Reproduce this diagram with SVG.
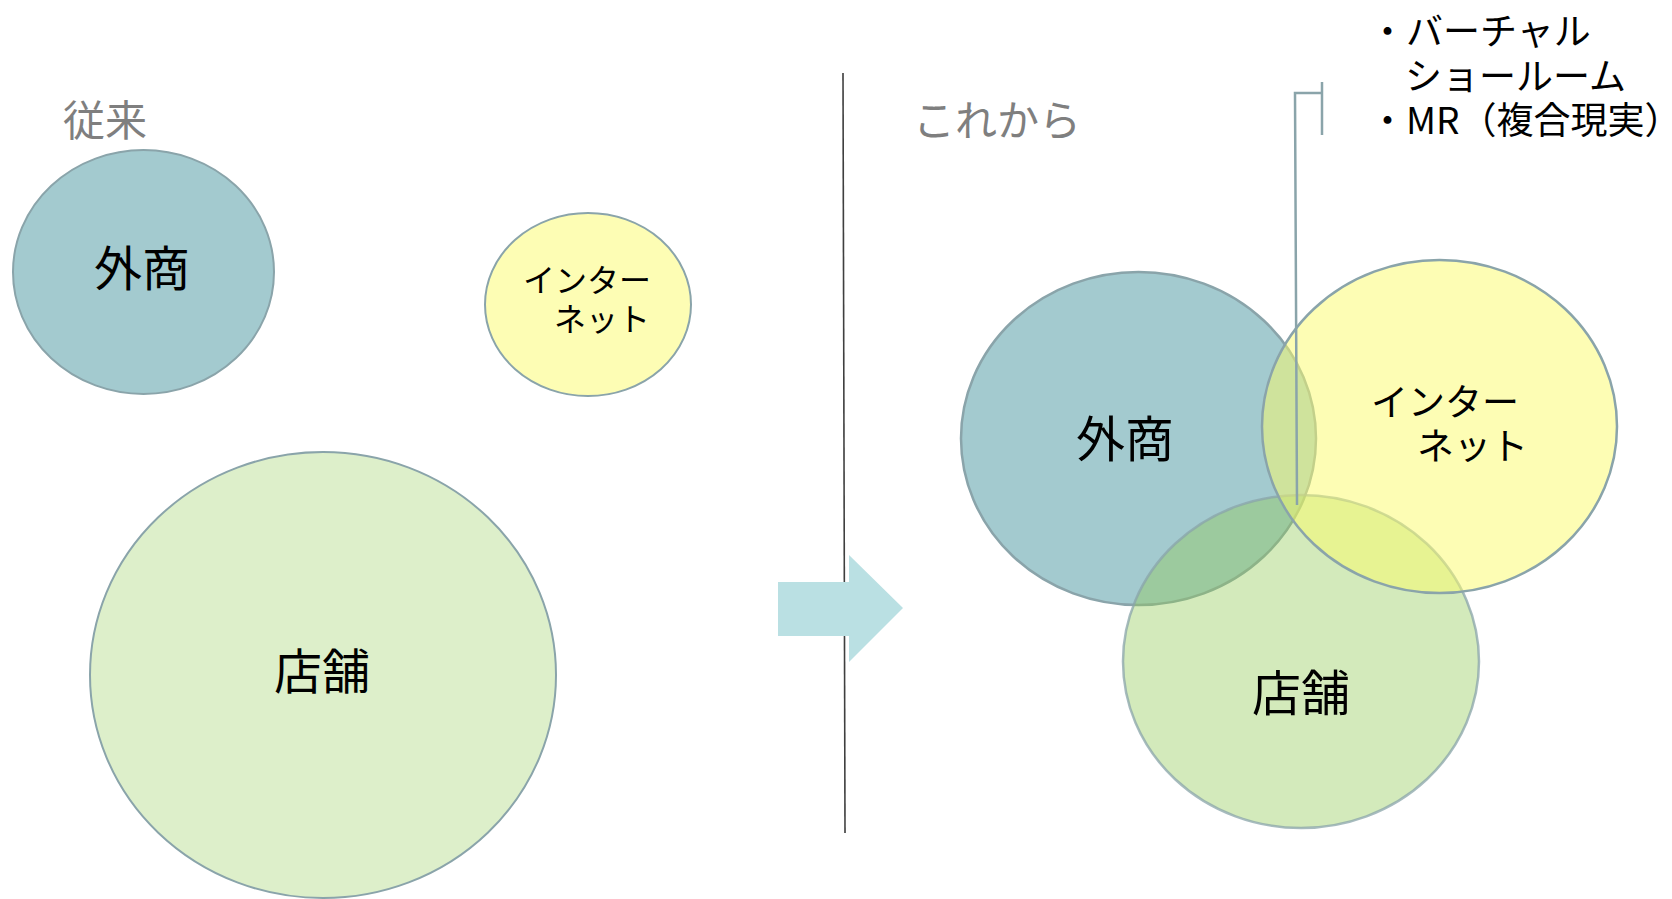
<svg xmlns="http://www.w3.org/2000/svg" width="1672" height="899" viewBox="0 0 1672 899">
<style>
text{font-family:"Noto Sans CJK JP","Noto Sans",sans-serif;dominant-baseline:central}
.title{fill:#7F7F7F;font-size:42px}
.lbl{fill:#000;text-anchor:middle}
.gaisho{fill:#A3CACF;stroke:#8AA4AA;stroke-width:2}
.net{fill:#FDFDB4;stroke:#8AA4AA;stroke-width:2}
.store{fill:#DDEFCA;stroke:#8AA4AA;stroke-width:2}
.gaisho2{fill:#A3CACF;stroke:#8AA4AA;stroke-width:2.5}
.net2{fill:rgb(251,251,105);fill-opacity:0.5;stroke:#8AA4AA;stroke-width:2.5}
.store2{fill:rgb(145,202,85);fill-opacity:0.4;stroke:#8AA4AA;stroke-opacity:0.75;stroke-width:2.5}
.callout{fill:none;stroke:#8AA4AA;stroke-width:2.5}
.note{fill:#000;font-size:37px}
</style>

<g id="title-before"><text class="title" x="63" y="117">従来</text></g>
<g id="title-after"><text class="title" x="913" y="117">これから</text></g>

<g id="divider"><line x1="843" y1="73" x2="845" y2="833" stroke="#3F3F3F" stroke-width="1.6"/></g>

<g id="before-gaisho">
<ellipse class="gaisho" cx="143.5" cy="272" rx="130.5" ry="122"/>
<text class="lbl" x="142" y="265" font-size="48">外商</text>
</g>
<g id="before-internet">
<ellipse class="net" cx="588" cy="304.5" rx="103" ry="91.5"/>
<text x="523" y="278" font-size="32">インター</text>
<text x="554" y="317" font-size="32">ネット</text>
</g>
<g id="before-store">
<ellipse class="store" cx="323" cy="675" rx="233" ry="223"/>
<text class="lbl" x="322" y="668" font-size="48">店舗</text>
</g>

<g id="arrow"><polygon points="778,582 849,582 849,555 903,608 849,662 849,636 778,636" fill="#BAE0E3"/></g>

<g id="after-gaisho">
<ellipse class="gaisho2" cx="1138.5" cy="438.5" rx="177.5" ry="166.5"/>
</g>
<g id="after-store">
<ellipse class="store2" cx="1301" cy="661.5" rx="178" ry="166.5"/>
</g>
<g id="after-internet">
<ellipse class="net2" cx="1439.5" cy="426.5" rx="177.5" ry="166.5"/>
</g>
<g id="after-labels">
<text class="lbl" x="1125" y="435" font-size="49">外商</text>
<text x="1371" y="400" font-size="37">インター</text>
<text x="1417" y="444" font-size="37">ネット</text>
<text class="lbl" x="1301" y="689" font-size="49">店舗</text>
</g>

<g id="connectors">
<path class="callout" d="M1297,505 L1295,93 L1322,93 M1322,82 L1322,135"/>
</g>

<g id="note">
<text class="note" x="1369" y="29">・バーチャル</text>
<text class="note" x="1405" y="74">ショールーム</text>
<text class="note" x="1369" y="118">・MR（複合現実）</text>
</g>
</svg>
